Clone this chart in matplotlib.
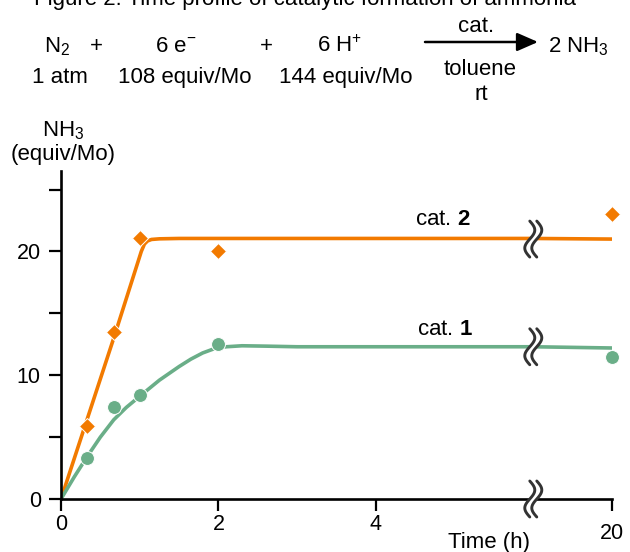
import numpy as np
import matplotlib
matplotlib.use("Agg")
import matplotlib.pyplot as plt
import matplotlib.transforms as mtrans

plt.rcParams['font.family'] = ['Liberation Sans', 'DejaVu Sans']
plt.rcParams['mathtext.fontset'] = 'custom'
plt.rcParams['mathtext.rm'] = 'Liberation Sans'
plt.rcParams['mathtext.it'] = 'Liberation Sans:italic'
plt.rcParams['mathtext.bf'] = 'Liberation Sans:bold'

# === Data ===
cat2_t = [0.33, 0.67, 1.0, 2.0, 20]
cat2_nh3 = [5.9, 13.5, 21.1, 20.0, 23.0]
cat1_t = [0.33, 0.67, 1.0, 2.0, 20]
cat1_nh3 = [3.3, 7.4, 8.4, 12.5, 11.5]

# fitted curves as drawn in the figure
cat2_fit_t = [0, 0.33, 0.67, 0.95, 1.02, 1.06, 1.1, 1.15, 1.25, 1.5, 2, 4, 6, 20]
cat2_fit_y = [0, 6.4, 13.0, 18.6, 20.0, 20.6, 20.85, 20.97, 21.02, 21.05, 21.05, 21.05, 21.05, 21.0]
cat1_fit_t = [0, 0.17, 0.33, 0.5, 0.67, 0.83, 1.0, 1.25, 1.5, 1.65, 1.8, 1.95, 2.1, 2.3, 2.6, 3, 4, 6, 20]
cat1_fit_y = [0, 1.8, 3.4, 5.0, 6.4, 7.4, 8.3, 9.6, 10.7, 11.3, 11.8, 12.15, 12.3, 12.38, 12.35, 12.3, 12.3, 12.3, 12.2]

x_ticks = [0, 2, 4, 20]
y_ticks = [0, 5, 10, 15, 20, 25]
y_tick_labels = ['0', '', '10', '', '20', '']

ORANGE = '#f27a00'
GREEN = '#6aae88'
BRK = 6.0   # axis break position (h)
FS = 16

W, H = 630, 552


def fwd(x):
    x = np.asarray(x, dtype=float)
    return np.where(x <= BRK, x, BRK + (x - BRK) / 14.0)


def inv(x):
    x = np.asarray(x, dtype=float)
    return np.where(x <= BRK, x, BRK + (x - BRK) * 14.0)


def px(x, y):
    return x / W, 1 - y / H


fig = plt.figure(figsize=(6.3, 5.52), dpi=100)
ax = fig.add_axes([61 / W, 1 - 499 / H, (612 - 61) / W, (499 - 171) / H])
ax.set_xscale('function', functions=(fwd, inv))
ax.set_xlim(0, 20)
ax.set_ylim(0, 26.5)

ax.plot(cat2_fit_t, cat2_fit_y, color=ORANGE, lw=2.6, solid_capstyle='round', zorder=2)
ax.plot(cat1_fit_t, cat1_fit_y, color=GREEN, lw=2.6, solid_capstyle='round', zorder=2)
ax.plot(cat2_t, cat2_nh3, 'D', color=ORANGE, ms=8.5, mec='white', mew=0.7, zorder=4, clip_on=False)
ax.plot(cat1_t, cat1_nh3, 'o', color=GREEN, ms=10, mec='white', mew=0.7, zorder=4, clip_on=False)

for s in ['top', 'right']:
    ax.spines[s].set_visible(False)
for s in ['left', 'bottom']:
    ax.spines[s].set_linewidth(1.9)

ax.set_xticks(x_ticks)
ax.set_xticklabels([str(v) for v in x_ticks])
ax.set_yticks(y_ticks)
ax.set_yticklabels(y_tick_labels)
ax.tick_params(axis='both', length=8.5, width=1.6, labelsize=15.5, direction='out')
ax.tick_params(axis='y', pad=6)
ax.tick_params(axis='x', pad=2)
ax.minorticks_off()

# the "20" label sits a bit lower in the original
lbl = ax.get_xticklabels()[-1]
lbl.set_transform(lbl.get_transform() + mtrans.ScaledTranslation(0, -7 / 72, fig.dpi_scale_trans))


# axis break marks
def draw_break(y):
    t = np.linspace(0, 1, 60)
    hgt = 0.36
    yy = (0.5 - t) * hgt
    xx = 0.05 * np.sin(2 * np.pi * t)
    off = 0.035
    tr = fig.dpi_scale_trans + mtrans.ScaledTranslation(BRK, y, ax.transData)
    poly_x = np.concatenate([xx - off, (xx + off)[::-1]])
    poly_y = np.concatenate([yy, yy[::-1]])
    ax.fill(poly_x, poly_y, color='white', transform=tr, zorder=5, clip_on=False, lw=0)
    for d in (-off, off):
        ax.plot(xx + d, yy, color='#333333', lw=2.1, transform=tr, zorder=6,
                clip_on=False, solid_capstyle='round')


for yb in (0, 21.0, 12.3):
    draw_break(yb)

# labels on curves
ax.text(*px(415, 225), r'cat. $\mathbf{2}$', transform=fig.transFigure, fontsize=FS, va='baseline')
ax.text(*px(417, 335), r'cat. $\mathbf{1}$', transform=fig.transFigure, fontsize=FS, va='baseline')

# axis titles
fig.text(*px(63, 136), r'NH$_3$', fontsize=FS, ha='center', va='baseline')
fig.text(*px(63, 160), '(equiv/Mo)', fontsize=FS, ha='center', va='baseline')
fig.text(*px(489, 548), 'Time (h)', fontsize=FS, ha='center', va='baseline')

# title (cut off at the top of the image)
fig.text(*px(305, 5), 'Figure 2. Time profile of catalytic formation of ammonia',
         fontsize=16, ha='center', va='baseline')

# reaction scheme
fig.text(*px(57, 52), r'N$_2$', fontsize=FS, ha='center', va='baseline')
fig.text(*px(96, 52), '+', fontsize=FS, ha='center', va='baseline')
fig.text(*px(176, 52), r'6 e$^{-}$', fontsize=FS, ha='center', va='baseline')
fig.text(*px(266, 52), '+', fontsize=FS, ha='center', va='baseline')
fig.text(*px(340, 52), r'6 H$^{+}$', fontsize=FS, ha='center', va='baseline')
fig.text(*px(548, 52), r'2 NH$_3$', fontsize=FS, ha='left', va='baseline')
fig.text(*px(60, 83), '1 atm', fontsize=FS, ha='center', va='baseline')
fig.text(*px(185, 83), '108 equiv/Mo', fontsize=FS, ha='center', va='baseline')
fig.text(*px(346, 83), '144 equiv/Mo', fontsize=FS, ha='center', va='baseline')
fig.text(*px(476, 32), 'cat.', fontsize=FS, ha='center', va='baseline')
fig.text(*px(480, 75), 'toluene', fontsize=FS, ha='center', va='baseline')
fig.text(*px(481, 100), 'rt', fontsize=FS, ha='center', va='baseline')
fig.patches.append(matplotlib.patches.FancyArrowPatch(
    px(425, 42), px(538, 42), transform=fig.transFigure, arrowstyle='-|>,head_length=8,head_width=3.5',
    mutation_scale=1.6, color='black', lw=1.8, shrinkA=0, shrinkB=0))

fig.savefig('out.png', dpi=100)
